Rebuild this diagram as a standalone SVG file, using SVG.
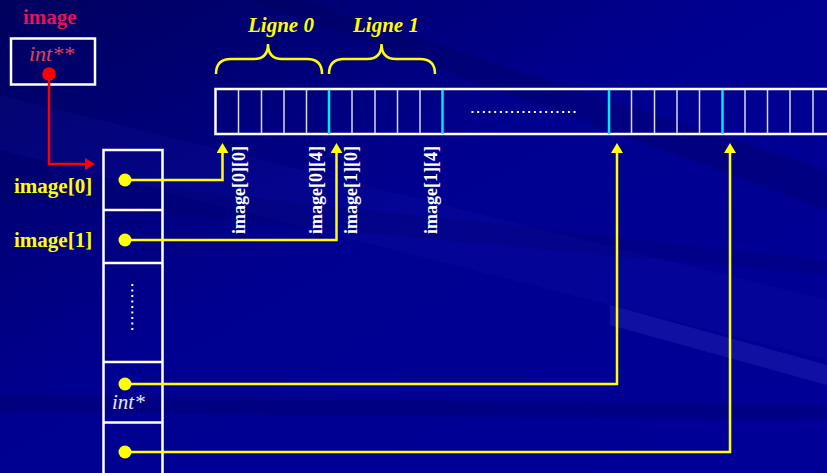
<svg xmlns="http://www.w3.org/2000/svg" width="827" height="473" viewBox="0 0 827 473">
<defs>
<linearGradient id="bg" x1="0" y1="0" x2="1" y2="1">
<stop offset="0" stop-color="#00005e"/>
<stop offset="0.45" stop-color="#000090"/>
<stop offset="1" stop-color="#000098"/>
</linearGradient>
<marker id="ya" viewBox="0 0 10 12" refX="4" refY="6" markerWidth="10" markerHeight="12" markerUnits="userSpaceOnUse" orient="auto">
<polygon points="0,0 10,6 0,12" fill="#ffff00"/>
</marker>
<marker id="ra" viewBox="0 0 10 12" refX="4" refY="6" markerWidth="10" markerHeight="12" markerUnits="userSpaceOnUse" orient="auto">
<polygon points="0,0 10,6 0,12" fill="#ff0000"/>
</marker>
</defs>
<style>
.w{fill:none;stroke:#ffffff;stroke-width:2.5}
.cell{stroke:#d8d8f0;stroke-width:1.5}
.cy{stroke:#00e8f8;stroke-width:2.5}
.y{fill:none;stroke:#ffff00;stroke-width:2.5}
.ydot{fill:#ffff00}
.lbl{font-family:"Liberation Serif",serif;font-weight:bold;fill:#ffff00;font-size:21px}
.vl{font-family:"Liberation Serif",serif;font-weight:bold;fill:#ffffff;font-size:18px}
.brace{fill:none;stroke:#ffff00;stroke-width:2.5}
.ligne{font-family:"Liberation Serif",serif;font-weight:bold;font-style:italic;fill:#ffff00;font-size:21px}
</style>
<rect width="827" height="473" fill="url(#bg)"/>
<g id="background-streaks">
<polygon points="0,95 827,300 827,360 0,150" fill="#2020c0" opacity="0.12"/>
<polygon points="300,0 827,170 827,210 250,0" fill="#000050" opacity="0.25"/>
<polygon points="610,305 827,365 827,385 610,325" fill="#4040d0" opacity="0.25"/>
<polygon points="0,395 827,405 827,420 0,412" fill="#000060" opacity="0.3"/>
<polygon points="0,170 827,260 827,275 0,200" fill="#000060" opacity="0.2"/>
</g>
<g id="image-var">
<text x="23" y="24" font-family="Liberation Serif,serif" font-weight="bold" font-size="21" fill="#e8105a">image</text>
<rect x="11" y="38.5" width="84" height="46" class="w"/>
<text x="29" y="61" font-family="Liberation Serif,serif" font-style="italic" font-size="22" fill="#e0405a">int**</text>
</g>
<g id="braces">
<path class="brace" d="M216,74 Q216,59 231,59 L254,59 Q268,59 268,44 Q268,59 282,59 L307,59 Q322,59 322,74"/>
<text class="ligne" x="248" y="32">Ligne 0</text>
<path class="brace" d="M329,74 Q329,59 344,59 L367,59 Q381.5,59 381.5,44 Q381.5,59 396,59 L420,59 Q435,59 435,74"/>
<text class="ligne" x="353" y="32">Ligne 1</text>
</g>
<g id="array">
<rect x="215.5" y="89" width="620" height="45" class="w"/>
<g class="cell">
<line x1="238.5" y1="90" x2="238.5" y2="133"/>
<line x1="261.5" y1="90" x2="261.5" y2="133"/>
<line x1="284" y1="90" x2="284" y2="133"/>
<line x1="306.5" y1="90" x2="306.5" y2="133"/>
<line x1="352" y1="90" x2="352" y2="133"/>
<line x1="375" y1="90" x2="375" y2="133"/>
<line x1="397.5" y1="90" x2="397.5" y2="133"/>
<line x1="420" y1="90" x2="420" y2="133"/>
<line x1="631.5" y1="90" x2="631.5" y2="133"/>
<line x1="654.5" y1="90" x2="654.5" y2="133"/>
<line x1="677" y1="90" x2="677" y2="133"/>
<line x1="699.5" y1="90" x2="699.5" y2="133"/>
<line x1="745" y1="90" x2="745" y2="133"/>
<line x1="767.5" y1="90" x2="767.5" y2="133"/>
<line x1="790" y1="90" x2="790" y2="133"/>
<line x1="813" y1="90" x2="813" y2="133"/>
</g>
<g class="cy">
<line x1="329" y1="90" x2="329" y2="134"/>
<line x1="442.5" y1="90" x2="442.5" y2="134"/>
<line x1="609" y1="90" x2="609" y2="134"/>
<line x1="722.5" y1="90" x2="722.5" y2="134"/>
</g>
<line x1="471.5" y1="112" x2="576" y2="112" stroke="#ffffff" stroke-width="2" stroke-dasharray="2 3.67"/>
</g>
<g id="pointer-column">
<path class="w" d="M103.5,475 V150 H162.5 V475"/>
<line class="w" x1="103.5" y1="210" x2="162.5" y2="210"/>
<line class="w" x1="103.5" y1="263" x2="162.5" y2="263"/>
<line class="w" x1="103.5" y1="362" x2="162.5" y2="362"/>
<line class="w" x1="103.5" y1="422.5" x2="162.5" y2="422.5"/>
<line x1="132.3" y1="284" x2="132.3" y2="331" stroke="#ffffff" stroke-width="2" stroke-dasharray="2 3.5"/>
<text x="112" y="409" font-family="Liberation Serif,serif" font-style="italic" font-size="21" fill="#e8e8f8">int*</text>
<text class="lbl" x="14" y="193">image[0]</text>
<text class="lbl" x="14" y="247">image[1]</text>
</g>
<g id="element-labels">
<text class="vl" transform="translate(245,234) rotate(-90)">image[0][0]</text>
<text class="vl" transform="translate(322,234) rotate(-90)">image[0][4]</text>
<text class="vl" transform="translate(357,234) rotate(-90)">image[1][0]</text>
<text class="vl" transform="translate(437,234) rotate(-90)">image[1][4]</text>
</g>
<g id="connectors">
<path d="M49,74 V164 H89" fill="none" stroke="#ff0000" stroke-width="2.5" marker-end="url(#ra)"/>
<path class="y" d="M125,180 H222.5 V149" marker-end="url(#ya)"/>
<path class="y" d="M125,240 H336.5 V149" marker-end="url(#ya)"/>
<path class="y" d="M125,384 H617 V149" marker-end="url(#ya)"/>
<path class="y" d="M125,452 H730 V149" marker-end="url(#ya)"/>
<circle cx="49" cy="74" r="6.8" fill="#ff0000"/>
<circle class="ydot" cx="125" cy="180" r="6.5"/>
<circle class="ydot" cx="125" cy="240" r="6.5"/>
<circle class="ydot" cx="125" cy="384" r="6.5"/>
<circle class="ydot" cx="125" cy="452" r="6.5"/>
</g>
</svg>
